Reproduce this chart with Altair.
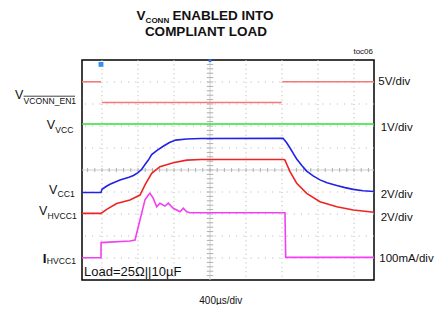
import altair as alt
import pandas as pd

# ---- trace data: time in µs (400 µs/div, trigger at -1211 µs), value in divisions ----
EN_T = [[-1422, -1211], [-1203, 797], [803, 1822]]
EN_V = [[4.01, 4.01], [3.07, 3.07], [4.01, 4.01]]

VCC_T = [-1422, 1822]
VCC_V = [2.09, 2.09]

CC1_T = [-1422, -1211, -1200, -1150, -1111, -1000, -900, -850, -800, -760, -722, -685,
         -648, -592, -520, -450, -380, -260, -100, 811, 850, 889, 930, 963, 1020, 1074,
         1150, 1222, 1300, 1408, 1500, 1592, 1700, 1822]
CC1_V = [-1.02, -1.02, -0.88, -0.74, -0.65, -0.45, -0.33, -0.25, -0.12, 0.02, 0.25, 0.45,
         0.70, 0.88, 1.08, 1.25, 1.36, 1.41, 1.43, 1.44, 1.25, 1.00, 0.72, 0.50, 0.20, -0.05,
         -0.28, -0.45, -0.58, -0.70, -0.80, -0.88, -0.94, -0.98]

HV_T = [-1422, -1211, -1148, -1037, -889, -778, -722, -648, -556, -408, -259, -100, 820,
        833, 889, 963, 1074, 1222, 1408, 1592, 1822]
HV_V = [-1.97, -1.97, -1.79, -1.52, -1.36, -1.14, -0.68, -0.15, 0.15, 0.33, 0.45, 0.48, 0.48,
        0.45, -0.08, -0.60, -1.06, -1.44, -1.67, -1.82, -1.92]

I_T = [-1422, -1211, -1210, -889, -833, -778, -722, -685, -667, -630, -592, -556, -500,
       -463, -408, -333, -297, -259, -222, 833, 841, 1822]
I_V = [-3.99, -3.99, -3.30, -3.23, -3.18, -2.27, -1.36, -1.14, -1.06, -1.29, -1.67, -1.51,
       -1.64, -1.51, -1.74, -1.90, -1.74, -1.90, -1.94, -1.94, -3.97, -3.97]

SERIES = ["en", "vcc", "cc1", "hvcc1", "ihvcc1"]
COLORS = ["#f27a7a", "#2ee02e", "#2222e6", "#ee2424", "#f040f0"]

X_GRID = [-1200, -800, -400, 400, 800, 1200, 1600]
Y_GRID = [-4, -3, -2, -1, 1, 2, 3, 4]
X_MINOR = [t for t in range(-1360, 1821, 80)]
Y_MINOR = [round(v * 0.2, 1) for v in range(-24, 25)]

LEFT_LABELS = [("V", "VCONN_EN1"), ("V", "VCC"), ("V", "CC1"), ("V", "HVCC1"), ("I", "HVCC1")]
RIGHT_LABELS = ["5V/div", "1V/div", "2V/div", "2V/div", "100mA/div"]
TITLE_1 = ("V", "CONN", "ENABLED INTO")
TITLE_2 = "COMPLIANT LOAD"
LOAD_TEXT = "Load=25\u03a9||10\u00b5F"
XDIV_TEXT = "400\u00b5s/div"
TOC = "toc06"

rows = []
for seg, (ts, vs) in enumerate(zip(EN_T, EN_V)):
    for i, (t, v) in enumerate(zip(ts, vs)):
        rows.append(dict(s="en", seg=f"en{seg}", t=t, v=v, o=i))
for name, ts, vs in [("vcc", VCC_T, VCC_V), ("cc1", CC1_T, CC1_V),
                     ("hvcc1", HV_T, HV_V), ("ihvcc1", I_T, I_V)]:
    for i, (t, v) in enumerate(zip(ts, vs)):
        rows.append(dict(s=name, seg=name, t=t, v=v, o=i))
df = pd.DataFrame(rows)

W, H = 292, 220
xs = alt.Scale(domain=[-1422, 1822], nice=False, zero=False)
ys = alt.Scale(domain=[-5, 5], nice=False, zero=False)
X = lambda f: alt.X(f, scale=xs, axis=None)
Y = lambda f: alt.Y(f, scale=ys, axis=None)

FONT = "Liberation Sans"

grid_c = "#b4b4b4"
vgrid = alt.Chart(pd.DataFrame({"t": X_GRID})).mark_rule(
    color=grid_c, strokeDash=[1, 3.4], strokeWidth=1).encode(x=X("t:Q"))
hgrid = alt.Chart(pd.DataFrame({"v": Y_GRID})).mark_rule(
    color=grid_c, strokeDash=[1, 6.2], strokeWidth=1).encode(y=Y("v:Q"))
vcenter = alt.Chart(pd.DataFrame({"t": [0]})).mark_rule(
    color="#cfcfcf", strokeWidth=1).encode(x=X("t:Q"))
hcenter = alt.Chart(pd.DataFrame({"v": [0]})).mark_rule(
    color="#cfcfcf", strokeWidth=1).encode(y=Y("v:Q"))
xminor = alt.Chart(pd.DataFrame({"t": X_MINOR, "a": -0.09, "b": 0.09})).mark_rule(
    color="#b0b0b0", strokeWidth=1).encode(x=X("t:Q"), y=Y("a:Q"), y2="b:Q")
yminor = alt.Chart(pd.DataFrame({"v": Y_MINOR, "a": -36, "b": 36})).mark_rule(
    color="#b0b0b0", strokeWidth=1).encode(y=Y("v:Q"), x=X("a:Q"), x2="b:Q")

lines = alt.Chart(df).mark_line(strokeWidth=1.6, interpolate="linear").encode(
    x=X("t:Q"), y=Y("v:Q"),
    color=alt.Color("s:N", scale=alt.Scale(domain=SERIES, range=COLORS), legend=None),
    detail="seg:N", order="o:Q")

trig = alt.Chart(pd.DataFrame({"t": [-1211], "v": [4.8]})).mark_square(
    size=24, color="#3a8ef0", opacity=1).encode(x=X("t:Q"), y=Y("v:Q"))
trig2 = alt.Chart(pd.DataFrame({"t": [0], "v": [4.97]})).mark_square(
    size=8, color="#2a7de0", opacity=1).encode(x=X("t:Q"), y=Y("v:Q"))


def txt(text, x, y, size, align="left", weight="normal", font=FONT, color="#111111"):
    return alt.Chart(alt.Data(values=[{}])).mark_text(
        text=text, align=align, baseline="alphabetic", fontSize=size, fontWeight=weight,
        font=font, color=color).encode(x=alt.value(x), y=alt.value(y))


labels = []
left_pos = [(-58.7, 39.3, 44.3), (-27, 69.3, 72.7), (-24.7, 134, 137.3),
            (-34.7, 155.3, 159.3), (-35.5, 202.7, 204)]
for (main, sub), (sx, mb, sb) in zip(LEFT_LABELS, left_pos):
    labels.append(txt(main, sx, mb, 12.5 if main == "V" else 13.5, align="right",
                      weight="normal" if main == "V" else "bold"))
    labels.append(txt(sub, sx + 0.3, sb, 8.6))
overline = alt.Chart(alt.Data(values=[{}])).mark_rule(color="#111111", strokeWidth=0.8).encode(
    x=alt.value(-58.4), x2=alt.value(-7), y=alt.value(36.2), y2=alt.value(36.2))

right_pos = [(296.3, 25), (298.7, 71), (298.7, 137.7), (298.7, 160.7), (297.3, 201.7)]
for t, (x, y) in zip(RIGHT_LABELS, right_pos):
    labels.append(txt(t, x, y, 11.5))

labels.append(txt(LOAD_TEXT, 2, 216, 13))
labels.append(txt(XDIV_TEXT, 117.3, 244, 10))
labels.append(txt(TOC, 291, -6, 8, align="right"))
labels.append(txt(TITLE_1[0], 54.5, -40.5, 13.5, weight="bold"))
labels.append(txt(TITLE_1[1], 63.6, -37.5, 8, weight="bold"))
labels.append(txt(TITLE_1[2], 90.4, -40.5, 13.5, weight="bold"))
labels.append(txt(TITLE_2, 124, -24, 13.5, align="center", weight="bold"))

chart = alt.layer(vgrid, hgrid, vcenter, hcenter, xminor, yminor, lines, trig, trig2,
                  overline, *labels).properties(
    width=W, height=H,
    autosize=alt.AutoSizeParams(type="none"),
    padding={"left": 74, "top": 52, "right": 63, "bottom": 25},
).configure_view(stroke="#000000", strokeWidth=1.5)

chart.save("out.html", embed_options={"renderer": "svg", "actions": False})
